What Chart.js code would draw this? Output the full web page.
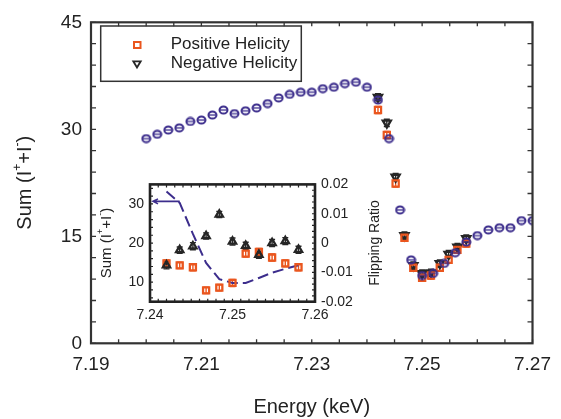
<!DOCTYPE html>
<html>
<head>
<meta charset="utf-8">
<script src="https://cdn.jsdelivr.net/npm/chart.js@4.4.0/dist/chart.umd.min.js"></script>
<style>
  body { margin: 0; background: #fff; }
  #wrap { position: relative; width: 561px; height: 419px; }
  #main-chart { position: absolute; left: 0; top: 0; }
  #inset-chart { position: absolute; left: 90px; top: 170px; }
</style>
</head>
<body>
<div id="wrap">
  <canvas id="main-chart" width="561" height="419" style="width:561px;height:419px"></canvas>
  <canvas id="inset-chart" width="310" height="160" style="width:310px;height:160px"></canvas>
</div>
<script>
// main panel: averaged sum over the full scan
const energy = [7.200, 7.202, 7.204, 7.206, 7.208, 7.210, 7.212, 7.214, 7.216, 7.218,
                7.220, 7.222, 7.224, 7.226, 7.228, 7.230, 7.232, 7.234, 7.236, 7.238,
                7.240, 7.242, 7.244, 7.246, 7.248, 7.250, 7.252, 7.254, 7.256, 7.258,
                7.260, 7.262, 7.264, 7.266, 7.268, 7.270];
const sumAverage = [28.7, 29.3, 29.9, 30.2, 31.1, 31.3, 32.0, 32.7, 32.2, 32.6,
                    33.0, 33.6, 34.4, 34.9, 35.2, 35.2, 35.7, 35.9, 36.4, 36.6,
                    35.9, 34.1, 28.7, 18.7, 11.7, 9.5, 9.8, 11.2, 12.7, 14.2,
                    15.1, 15.9, 16.2, 16.2, 17.2, 17.2];

// helicity resolved points (main panel and inset share the energies)
const helicityEnergy = [7.2420, 7.2436, 7.2452, 7.2468, 7.2484, 7.2500, 7.2516, 7.2532, 7.2548, 7.2564, 7.2580];
const sumPositive = [32.7, 29.2, 22.4, 14.8, 10.6, 9.2, 9.5, 10.6, 11.7, 13.1, 14.0];
const sumNegative = [34.5, 30.9, 23.3, 15.1, 10.9, 9.8, 9.9, 11.2, 12.5, 13.5, 14.7];
const mainError = [0.5, 0.5, 0.5, 0.5, 0.5, 0.5, 0.5, 0.5, 0.5, 0.5, 0.5];

// inset
const insetPositive = [14.8, 14.3, 13.8, 7.9, 8.6, 9.8, 17.3, 17.7, 16.3, 14.8, 13.8];
const insetNegative = [14.3, 18.2, 19.2, 21.8, 27.3, 20.4, 19.3, 17.0, 20.0, 20.5, 18.3];
const insetError = [0.9, 0.8, 0.9, 0.8, 0.8, 0.9, 0.9, 0.9, 0.9, 0.9, 0.9];
const flipRatio = [0.0176, 0.0137, 0.0031, -0.0068, -0.0123, -0.0136, -0.0136, -0.0119, -0.0101, -0.0088, -0.0076];

const mainXTicks = [7.19, 7.21, 7.23, 7.25, 7.27];
const mainYTicks = [0, 15, 30, 45];
const insetXTicks = [7.24, 7.25, 7.26];
const insetYTicks = [10, 20, 30];
const flipTicks = [-0.02, -0.01, 0, 0.01, 0.02];

const PURPLE = '#3c2d8c';
const ORANGE = '#ea561e';
const BLACK = '#262626';
const FONT = "'Liberation Sans', Arial, sans-serif";

Chart.defaults.font.family = FONT;
Chart.defaults.color = '#222';

function toXY(xs, ys) {
    return xs.map((x, i) => ({ x: x, y: ys[i] }));
}

function makeCircleMarker() {
    const c = document.createElement('canvas');
    c.width = 11;
    c.height = 10;
    const g = c.getContext('2d');
    g.strokeStyle = PURPLE;
    g.lineWidth = 2;
    g.beginPath();
    g.ellipse(5.5, 5, 4, 3.6, 0, 0, 2 * Math.PI);
    g.stroke();
    g.lineWidth = 1.3;
    g.beginPath();
    g.moveTo(2, 5);
    g.lineTo(9, 5);
    g.stroke();
    return c;
}

// text with superscripts, parts = [[text, isSup], ...]
function drawRichText(ctx, parts, cx, cy, size, rotate) {
    ctx.save();
    ctx.translate(cx, cy);
    if (rotate) ctx.rotate(-Math.PI / 2);
    ctx.fillStyle = '#222';
    ctx.textBaseline = 'middle';
    ctx.textAlign = 'left';
    const supSize = Math.round(size * 0.62);
    let total = 0;
    parts.forEach(p => {
        ctx.font = (p[1] ? supSize : size) + 'px ' + FONT;
        total += ctx.measureText(p[0]).width;
    });
    let x = -total / 2;
    parts.forEach(p => {
        ctx.font = (p[1] ? supSize : size) + 'px ' + FONT;
        ctx.fillText(p[0], x, p[1] ? -size * 0.38 : 0);
        x += ctx.measureText(p[0]).width;
    });
    ctx.restore();
}

function tickRun(ctx, area, scale, from, to, step, len, sides) {
    const n = Math.round((to - from) / step);
    ctx.beginPath();
    for (let k = 0; k <= n; k++) {
        const v = from + k * step;
        const p = scale.getPixelForValue(v);
        if (scale.isHorizontal()) {
            if (sides.includes('bottom')) { ctx.moveTo(p, area.bottom); ctx.lineTo(p, area.bottom - len); }
            if (sides.includes('top')) { ctx.moveTo(p, area.top); ctx.lineTo(p, area.top + len); }
        } else {
            if (sides.includes('left')) { ctx.moveTo(area.left, p); ctx.lineTo(area.left + len, p); }
            if (sides.includes('right')) { ctx.moveTo(area.right, p); ctx.lineTo(area.right - len, p); }
        }
    }
    ctx.stroke();
}

const errorBarPlugin = {
    id: 'errorBars',
    beforeDatasetsDraw(chart) {
        const ctx = chart.ctx;
        chart.data.datasets.forEach((ds, i) => {
            if (!ds.errors) return;
            const meta = chart.getDatasetMeta(i);
            const ys = chart.scales[meta.yAxisID];
            ctx.save();
            ctx.strokeStyle = ds.borderColor;
            ctx.lineWidth = 1.4;
            meta.data.forEach((pt, j) => {
                const v = ds.data[j].y;
                const top = ys.getPixelForValue(v + ds.errors[j]);
                const bot = ys.getPixelForValue(v - ds.errors[j]);
                ctx.beginPath();
                ctx.moveTo(pt.x, top); ctx.lineTo(pt.x, bot);
                ctx.moveTo(pt.x - 3, top); ctx.lineTo(pt.x + 3, top);
                ctx.moveTo(pt.x - 3, bot); ctx.lineTo(pt.x + 3, bot);
                ctx.stroke();
            });
            ctx.restore();
        });
    }
};

const mainDecor = {
    id: 'mainDecor',
    afterDraw(chart) {
        const ctx = chart.ctx;
        const a = chart.chartArea;
        ctx.save();
        ctx.strokeStyle = '#333';
        ctx.lineWidth = 1.3;
        tickRun(ctx, a, chart.scales.x, 7.19, 7.27, 0.005, 4, ['bottom', 'top']);
        tickRun(ctx, a, chart.scales.y, 0, 45, 3, 5, ['left', 'right']);
        ctx.lineWidth = 2.2;
        ctx.strokeRect(a.left, a.top, a.right - a.left, a.bottom - a.top);

        // legend
        ctx.lineWidth = 1.5;
        ctx.strokeStyle = '#333';
        ctx.strokeRect(100.7, 26, 200.6, 55.3);
        ctx.strokeStyle = ORANGE;
        ctx.lineWidth = 2;
        ctx.strokeRect(134, 42, 6.5, 6);
        ctx.strokeStyle = BLACK;
        ctx.lineWidth = 1.8;
        ctx.beginPath();
        ctx.moveTo(133.3, 61.3); ctx.lineTo(140.7, 61.3); ctx.lineTo(137, 67.5); ctx.closePath();
        ctx.stroke();
        ctx.fillStyle = '#222';
        ctx.font = '17px ' + FONT;
        ctx.textBaseline = 'middle';
        ctx.fillText('Positive Helicity', 170.7, 44);
        ctx.fillText('Negative Helicity', 170.7, 63);
        ctx.restore();

        ctx.save();
        ctx.fillStyle = '#222';
        ctx.font = '20px ' + FONT;
        ctx.textAlign = 'center';
        ctx.textBaseline = 'middle';
        ctx.fillText('Energy (keV)', (a.left + a.right) / 2, 407);
        ctx.restore();
        drawRichText(ctx, [['Sum (I', false], ['+', true], ['+I', false], ['-', true], [')', false]],
            25, (a.top + a.bottom) / 2, 20, true);
    }
};

const insetDecor = {
    id: 'insetDecor',
    afterDatasetsDraw(chart) {
        // arrow from the flipping ratio curve to its axis
        const ctx = chart.ctx;
        const meta = chart.getDatasetMeta(2);
        const p = meta.data[1];
        const xEnd = chart.chartArea.left + 3;
        const y = p.y - 1.5;
        ctx.save();
        ctx.strokeStyle = PURPLE;
        ctx.lineWidth = 1.6;
        ctx.beginPath();
        ctx.moveTo(p.x, y); ctx.lineTo(xEnd, y);
        ctx.moveTo(xEnd + 5, y - 2.5); ctx.lineTo(xEnd, y); ctx.lineTo(xEnd + 5, y + 2.5);
        ctx.stroke();
        ctx.restore();
    },
    afterDraw(chart) {
        const ctx = chart.ctx;
        const a = chart.chartArea;
        ctx.save();
        ctx.strokeStyle = '#222';
        ctx.lineWidth = 1.2;
        tickRun(ctx, a, chart.scales.x, 7.24, 7.26, 0.001, 3, ['bottom', 'top']);
        tickRun(ctx, a, chart.scales.y, 6, 34, 2, 3, ['left']);
        tickRun(ctx, a, chart.scales.y2, -0.02, 0.02, 0.002, 3, ['right']);
        ctx.lineWidth = 2.6;
        ctx.strokeRect(a.left, a.top, a.right - a.left, a.bottom - a.top);
        ctx.restore();
        drawRichText(ctx, [['Sum (I', false], ['+', true], ['+I', false], ['-', true], [')', false]],
            16.7, (a.top + a.bottom) / 2, 15, true);
        drawRichText(ctx, [['Flipping Ratio', false]], 285, (a.top + a.bottom) / 2, 14, true);
    }
};

const circleMarker = makeCircleMarker();

new Chart(document.querySelector('#main-chart').getContext('2d'), {
    type: 'scatter',
    data: {
        datasets: [{
            label: 'Sum',
            data: toXY(energy, sumAverage),
            pointStyle: circleMarker,
            borderColor: PURPLE,
            order: 1
        }, {
            label: 'Positive Helicity',
            data: toXY(helicityEnergy, sumPositive),
            errors: mainError,
            pointStyle: 'rect',
            pointRadius: 4.4,
            borderWidth: 2.2,
            borderColor: ORANGE,
            backgroundColor: 'rgba(0,0,0,0)',
            order: 2
        }, {
            label: 'Negative Helicity',
            data: toXY(helicityEnergy, sumNegative),
            errors: mainError,
            pointStyle: 'triangle',
            pointRotation: 180,
            pointRadius: 4.6,
            borderWidth: 2.4,
            borderColor: BLACK,
            backgroundColor: 'rgba(0,0,0,0)',
            order: 3
        }]
    },
    options: {
        responsive: false,
        animation: false,
        devicePixelRatio: 1,
        layout: { padding: { top: 22.3, right: 23.5, left: 0, bottom: 0 } },
        plugins: { legend: { display: false }, tooltip: { enabled: false } },
        scales: {
            x: {
                type: 'linear', min: 7.19, max: 7.27,
                afterBuildTicks: s => { s.ticks = mainXTicks.map(v => ({ value: v })); },
                afterFit: s => { s.height = 75.7; },
                grid: { display: false, drawTicks: false },
                border: { display: false },
                ticks: { font: { size: 19 }, padding: 10, autoSkip: false, maxRotation: 0,
                         callback: v => v.toFixed(2) }
            },
            y: {
                type: 'linear', min: 0, max: 45,
                afterBuildTicks: s => { s.ticks = mainYTicks.map(v => ({ value: v })); },
                afterFit: s => { s.width = 91; },
                grid: { display: false, drawTicks: false },
                border: { display: false },
                ticks: { font: { size: 19 }, padding: 9, autoSkip: false }
            }
        }
    },
    plugins: [errorBarPlugin, mainDecor]
});

new Chart(document.querySelector('#inset-chart').getContext('2d'), {
    type: 'scatter',
    data: {
        datasets: [{
            label: 'Positive',
            data: toXY(helicityEnergy, insetPositive),
            errors: insetError,
            yAxisID: 'y',
            pointStyle: 'rect',
            pointRadius: 4.3,
            borderWidth: 2.3,
            borderColor: ORANGE,
            backgroundColor: 'rgba(0,0,0,0)',
            order: 2
        }, {
            label: 'Negative',
            data: toXY(helicityEnergy, insetNegative),
            errors: insetError,
            yAxisID: 'y',
            pointStyle: 'triangle',
            pointRadius: 4.2,
            borderWidth: 2.3,
            borderColor: BLACK,
            backgroundColor: 'rgba(0,0,0,0)',
            order: 1
        }, {
            label: 'Flipping Ratio',
            data: toXY(helicityEnergy, flipRatio),
            yAxisID: 'y2',
            showLine: true,
            pointRadius: 0,
            borderColor: PURPLE,
            borderWidth: 2,
            borderDash: [11, 5],
            order: 3
        }]
    },
    options: {
        responsive: false,
        animation: false,
        devicePixelRatio: 1,
        layout: { padding: { top: 12.3, right: 0, left: 0, bottom: 0 } },
        plugins: { legend: { display: false }, tooltip: { enabled: false } },
        scales: {
            x: {
                type: 'linear', min: 7.24, max: 7.26,
                afterBuildTicks: s => { s.ticks = insetXTicks.map(v => ({ value: v })); },
                afterFit: s => { s.height = 28.3; },
                grid: { display: false, drawTicks: false },
                border: { display: false },
                ticks: { font: { size: 14 }, padding: 5, autoSkip: false, maxRotation: 0,
                         callback: v => v.toFixed(2) }
            },
            y: {
                type: 'linear', position: 'left', min: 5, max: 35,
                afterBuildTicks: s => { s.ticks = insetYTicks.map(v => ({ value: v })); },
                afterFit: s => { s.width = 60; },
                grid: { display: false, drawTicks: false },
                border: { display: false },
                ticks: { font: { size: 14 }, padding: 6, autoSkip: false }
            },
            y2: {
                type: 'linear', position: 'right', min: -0.02, max: 0.02,
                afterBuildTicks: s => { s.ticks = flipTicks.map(v => ({ value: v })); },
                afterFit: s => { s.width = 85; },
                grid: { display: false, drawTicks: false },
                border: { display: false },
                ticks: { font: { size: 14 }, padding: 6, autoSkip: false,
                         callback: v => (Math.abs(v) < 1e-9 ? '0' : v.toFixed(2)) }
            }
        }
    },
    plugins: [errorBarPlugin, insetDecor]
});
</script>
</body>
</html>
